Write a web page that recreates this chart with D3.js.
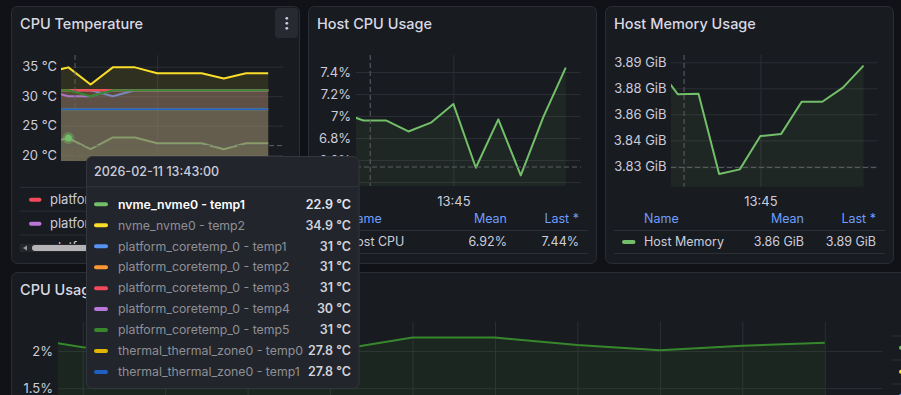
<!DOCTYPE html>
<html>
<head>
<meta charset="utf-8">
<script src="https://cdn.jsdelivr.net/npm/d3@7"></script>
<style>
  html, body { margin: 0; padding: 0; background: #111217; }
  svg { display: block; font-family: Inter, "Noto Sans", sans-serif; }
</style>
</head>
<body>
<script>
/* ----------- data ------------ */
var times = ['13:42:30', '13:43:00', '13:43:30', '13:44:00', '13:44:30', '13:45:00',
             '13:45:30', '13:46:00', '13:46:30', '13:47:00', '13:47:30'];
var timeStart = '13:42:50';
var timeEnd = '13:47:50';
var timeTicks = ['13:45:00'];
var cursorTime = '13:43:09';
var tooltipTitle = '2026-02-11 13:43:00';

var tempNames = ['nvme_nvme0 - temp1', 'nvme_nvme0 - temp2',
  'platform_coretemp_0 - temp1', 'platform_coretemp_0 - temp2', 'platform_coretemp_0 - temp3',
  'platform_coretemp_0 - temp4', 'platform_coretemp_0 - temp5',
  'thermal_thermal_zone0 - temp0', 'thermal_thermal_zone0 - temp1'];
var nvmeTemp1 = [22, 22.9, 21, 23, 23, 22, 22, 22, 21, 22, 22];
var nvmeTemp2 = [34, 34.9, 32, 34.9, 34.9, 33.9, 33.9, 33.9, 33, 33.9, 33.9];
var coreTemp1 = [31, 31, 31, 30, 31, 31, 31, 31, 31, 31, 31];
var coreTemp2 = [31, 31, 31, 31, 31, 31, 31, 31, 31, 31, 31];
var coreTemp3 = [31, 31, 31, 31, 31, 31, 31, 31, 31, 31, 31];
var coreTemp4 = [31, 30, 30, 31, 31, 31, 31, 31, 31, 31, 31];
var coreTemp5 = [31, 31, 30, 31, 31, 31, 31, 31, 31, 31, 31];
var thermalTemp0 = [27.8, 27.8, 27.8, 27.8, 27.8, 27.8, 27.8, 27.8, 27.8, 27.8, 27.8];
var thermalTemp1 = [27.8, 27.8, 27.8, 27.8, 27.8, 27.8, 27.8, 27.8, 27.8, 27.8, 27.8];
var tempTicks = [20, 25, 30, 35];
var tempRange = [19, 37];

var hostCpu = [7.03, 6.96, 6.96, 6.86, 6.94, 7.11, 6.53, 6.97, 6.46, 6.99, 7.44];
var cpuTicks = [6.4, 6.6, 6.8, 7, 7.2, 7.4];
var cpuRange = [6.364, 7.555];

var hostMemory = [3.888, 3.8714, 3.8717, 3.8235, 3.8263, 3.8463, 3.8475, 3.8669, 3.8669, 3.8754, 3.8886];
var memTicks = [3.828125, 3.84375, 3.859375, 3.875, 3.890625];
var memRange = [3.8159, 3.895];

var usageTimes = ['13:37:00', '13:38:00', '13:39:00', '13:40:00', '13:41:00', '13:42:00',
                  '13:43:00', '13:44:00', '13:45:00', '13:46:00', '13:47:00'];
var usageStart = '13:37:42';
var usageEnd = '13:47:42';
var usageValues = [2.23, 2.05, 2.03, 2.02, 2.0, 2.18, 2.18, 2.08, 2.01, 2.07, 2.11];
var usageTicks = [1.5, 2];
var usageRange = [0.4, 2.393];

/* ----------- styles ------------ */
var tempColors = ['#73bf69', '#fade2a', '#5794f2', '#ff9830', '#f2495c', '#b877d9', '#37872d', '#e0b400', '#1f60c4'];
var green = '#73bf69';
var darkGreen = '#37872d';
var gridColor = '#2c2f35';
var cursorColor = '#5d6067';
var textColor = '#ccccdc';
var linkColor = '#6e9fff';
var cursorFrac = 0.855;

var parseTime = d3.timeParse('%H:%M:%S');
var dates = times.map(parseTime);

var svg = d3.select('body').append('svg').attr('width', 901).attr('height', 395);
var defs = svg.append('defs');
svg.append('rect').attr('width', 901).attr('height', 395).attr('fill', '#111217');

function drawPanel(x, y, w, h, title) {
  svg.append('rect')
    .attr('x', x + 0.5).attr('y', y + 0.5).attr('width', w).attr('height', h).attr('rx', 6)
    .attr('fill', '#181b1f').attr('stroke', '#2a2d33');
  svg.append('text')
    .attr('x', x + 9).attr('y', y + 22.5)
    .attr('fill', '#d8d9e3').attr('font-size', 14.5).attr('font-weight', 500)
    .text(title);
}

function timePlot(box, xDomain, yDomain, yTicks, yFormat, tickPad, xTicks, xFormat, clipId) {
  var w = box.right - box.left;
  var h = box.bottom - box.top;
  var x = d3.scaleTime().domain(xDomain).range([box.left, box.right]);
  var y = d3.scaleLinear().domain(yDomain).range([box.bottom, box.top]);

  var yAxis = svg.append('g')
    .attr('transform', 'translate(' + box.left + ',0)')
    .call(d3.axisLeft(y).tickValues(yTicks).tickFormat(yFormat).tickSize(-w).tickPadding(tickPad));
  var xAxis = svg.append('g')
    .attr('transform', 'translate(0,' + box.bottom + ')')
    .call(d3.axisBottom(x).tickValues(xTicks).tickFormat(xFormat).tickSize(-h).tickPadding(10.5));
  [yAxis, xAxis].forEach(function (g) {
    g.select('.domain').remove();
    g.attr('font-family', null).attr('font-size', 13);
    g.selectAll('line').attr('stroke', gridColor);
    g.selectAll('text').attr('fill', textColor);
  });

  defs.append('clipPath').attr('id', clipId).append('rect')
    .attr('x', box.left).attr('y', box.top).attr('width', w).attr('height', h);
  var g = svg.append('g').attr('clip-path', 'url(#' + clipId + ')');
  return { x: x, y: y, g: g, box: box };
}

function drawSeries(p, ds, values, color, fillOpacity) {
  var pts = ds.map(function (d, i) { return [d, values[i]]; });
  p.g.append('path').datum(pts)
    .attr('fill', color).attr('fill-opacity', fillOpacity)
    .attr('d', d3.area()
      .x(function (d) { return p.x(d[0]); })
      .y0(p.box.bottom)
      .y1(function (d) { return p.y(d[1]); }));
  p.g.append('path').datum(pts)
    .attr('fill', 'none').attr('stroke', color).attr('stroke-width', 2)
    .attr('stroke-linejoin', 'round')
    .attr('d', d3.line()
      .x(function (d) { return p.x(d[0]); })
      .y(function (d) { return p.y(d[1]); }));
}

function drawCursor(p) {
  var cx = p.x(parseTime(cursorTime));
  var cy = p.box.top + cursorFrac * (p.box.bottom - p.box.top);
  svg.append('line')
    .attr('x1', cx).attr('x2', cx).attr('y1', p.box.top).attr('y2', p.box.bottom)
    .attr('stroke', cursorColor).attr('stroke-dasharray', '5,3');
  svg.append('line')
    .attr('x1', p.box.left).attr('x2', p.box.right).attr('y1', cy).attr('y2', cy)
    .attr('stroke', cursorColor).attr('stroke-dasharray', '5,3');
}

function visibleValues(values) {
  var start = parseTime(timeStart);
  return values.filter(function (v, i) { return dates[i] >= start; });
}

function drawLegend(px, pw, name, color, values, fmt) {
  var vis = visibleValues(values);
  var right = px + pw;
  var head = svg.append('g').attr('font-size', 12.5).attr('fill', linkColor);
  head.append('text').attr('x', px + 39).attr('y', 222.5).text('Name');
  head.append('text').attr('x', right - 89).attr('y', 222.5).attr('text-anchor', 'end').text('Mean');
  head.append('text').attr('x', right - 17).attr('y', 222.5).attr('text-anchor', 'end').text('Last *');
  [230.5, 253.5].forEach(function (ly) {
    svg.append('line').attr('x1', px + 9).attr('x2', right - 8).attr('y1', ly).attr('y2', ly).attr('stroke', gridColor);
  });
  svg.append('rect').attr('x', px + 17).attr('y', 240).attr('width', 13.5).attr('height', 4).attr('rx', 2).attr('fill', color);
  var row = svg.append('g').attr('font-size', 12.5).attr('fill', textColor);
  row.append('text').attr('x', px + 39).attr('y', 246.3).text(name);
  row.append('text').attr('x', right - 89).attr('y', 246.3).attr('text-anchor', 'end').text(fmt(d3.mean(vis)));
  row.append('text').attr('x', right - 17).attr('y', 246.3).attr('text-anchor', 'end').text(fmt(vis[vis.length - 1]));
}

var xDomain = [parseTime(timeStart), parseTime(timeEnd)];
var xTickDates = timeTicks.map(parseTime);
var hhmm = d3.timeFormat('%H:%M');

/* ----------- CPU Temperature ------------ */
drawPanel(11, 6, 288, 257, 'CPU Temperature');
svg.append('rect').attr('x', 275).attr('y', 8).attr('width', 23).attr('height', 30).attr('rx', 4).attr('fill', '#272a30');
[18.3, 23.3, 28.3].forEach(function (dy) {
  svg.append('circle').attr('cx', 286.8).attr('cy', dy).attr('r', 1.4).attr('fill', textColor);
});

var tempSeries = [nvmeTemp1, nvmeTemp2, coreTemp1, coreTemp2, coreTemp3, coreTemp4, coreTemp5, thermalTemp0, thermalTemp1];
var p1 = timePlot({ left: 61, right: 283, top: 55, bottom: 161 }, xDomain, tempRange, tempTicks,
  function (d) { return d + ' °C'; }, 4, xTickDates, hhmm, 'clip1');
tempSeries.forEach(function (values, i) {
  drawSeries(p1, dates, values, tempColors[i], 0.11);
});
drawCursor(p1);
p1.g.append('circle').attr('cx', p1.x(dates[1])).attr('cy', p1.y(nvmeTemp1[1])).attr('r', 6)
  .attr('fill', green).attr('fill-opacity', 0.35);
p1.g.append('circle').attr('cx', p1.x(dates[1])).attr('cy', p1.y(nvmeTemp1[1])).attr('r', 3.5)
  .attr('fill', green);

// legend (scrolled list)
defs.append('clipPath').attr('id', 'legclip').append('rect')
  .attr('x', 12).attr('y', 182).attr('width', 286).attr('height', 62);
var leg = svg.append('g').attr('clip-path', 'url(#legclip)');
[4, 5, 6].forEach(function (s, i) {
  var top = 187.3 + i * 23.85;
  leg.append('line').attr('x1', 20).attr('x2', 298).attr('y1', top).attr('y2', top).attr('stroke', gridColor);
  leg.append('rect').attr('x', 29).attr('y', top + 10.5).attr('width', 12.5).attr('height', 4).attr('rx', 2).attr('fill', tempColors[s]);
  leg.append('text').attr('x', 50).attr('y', top + 17).attr('font-size', 13).attr('fill', textColor).text(tempNames[s]);
});
svg.append('rect').attr('x', 20).attr('y', 244).attr('width', 70).attr('height', 8).attr('fill', '#24272c');
svg.append('rect').attr('x', 32).attr('y', 245).attr('width', 60).attr('height', 6).attr('rx', 3).attr('fill', '#b4b4b6');
svg.append('path').attr('d', 'M23,248 L27,245.5 L27,250.5 Z').attr('fill', '#9a9ba0');

/* ----------- Host CPU Usage ------------ */
drawPanel(308, 6, 288, 257, 'Host CPU Usage');
var cpuFmt = function (d) { return (+d.toFixed(1)) + '%'; };
var p2 = timePlot({ left: 356, right: 580.7, top: 55, bottom: 186 }, xDomain, cpuRange, cpuTicks,
  cpuFmt, 5, xTickDates, hhmm, 'clip2');
drawSeries(p2, dates, hostCpu, green, 0.08);
drawCursor(p2);
drawLegend(308, 288, 'Host CPU', green, hostCpu, function (d) { return d.toFixed(2) + '%'; });

/* ----------- Host Memory Usage ------------ */
drawPanel(605, 6, 288, 257, 'Host Memory Usage');
var memFmt = function (d) { return d.toFixed(2) + ' GiB'; };
var p3 = timePlot({ left: 671, right: 877.3, top: 55, bottom: 186.7 }, xDomain, memRange, memTicks,
  memFmt, 4.5, xTickDates, hhmm, 'clip3');
drawSeries(p3, dates, hostMemory, green, 0.08);
drawCursor(p3);
drawLegend(605, 288, 'Host Memory', green, hostMemory, memFmt);

/* ----------- CPU Usage ------------ */
drawPanel(11, 272, 1000, 300, 'CPU Usage');
var usageDates = usageTimes.map(parseTime);
// x labels of this panel sit below the window, only the grid is seen
var p4 = timePlot({ left: 58, right: 882.5, top: 321.7, bottom: 470 },
  [parseTime(usageStart), parseTime(usageEnd)], usageRange, usageTicks,
  function (d) { return d + '%'; }, 5, usageDates.slice(1), function () { return ''; }, 'clip4');
drawSeries(p4, usageDates, usageValues, darkGreen, 0.1);
[336, 360, 384].forEach(function (ly) {
  svg.append('line').attr('x1', 891).attr('x2', 901).attr('y1', ly).attr('y2', ly).attr('stroke', gridColor);
});
[green, '#fade2a', '#5794f2'].forEach(function (c, i) {
  svg.append('rect').attr('x', 899).attr('y', 345.7 + i * 24).attr('width', 12).attr('height', 4).attr('rx', 2).attr('fill', c);
});

/* ----------- tooltip ------------ */
var tip = svg.append('g');
tip.append('rect').attr('x', 86.5).attr('y', 156.5).attr('width', 272.5).attr('height', 232).attr('rx', 6)
  .attr('fill', '#22252b').attr('stroke', '#33363c');
tip.append('text').attr('x', 94).attr('y', 176.4).attr('font-size', 12.5).attr('font-weight', 500)
  .attr('fill', textColor).text(tooltipTitle);
tip.append('line').attr('x1', 87).attr('x2', 358.5).attr('y1', 186.7).attr('y2', 186.7).attr('stroke', '#33363c');
tempNames.forEach(function (name, i) {
  var cy = 204.3 + i * 20.96;
  var first = i === 0;
  tip.append('rect').attr('x', 94).attr('y', cy - 2).attr('width', 14).attr('height', 4).attr('rx', 2)
    .attr('fill', tempColors[i]);
  tip.append('text').attr('x', 118).attr('y', cy + 4.3).attr('font-size', 12.3)
    .attr('font-weight', first ? 600 : 400)
    .attr('fill', first ? '#ffffff' : '#8e9097').text(name);
  tip.append('text').attr('x', 351).attr('y', cy + 4.3).attr('font-size', 12.5).attr('font-weight', 600)
    .attr('text-anchor', 'end').attr('fill', first ? '#e6e6ee' : '#d2d3da')
    .text(tempSeries[i][1] + ' °C');
});
</script>
</body>
</html>
